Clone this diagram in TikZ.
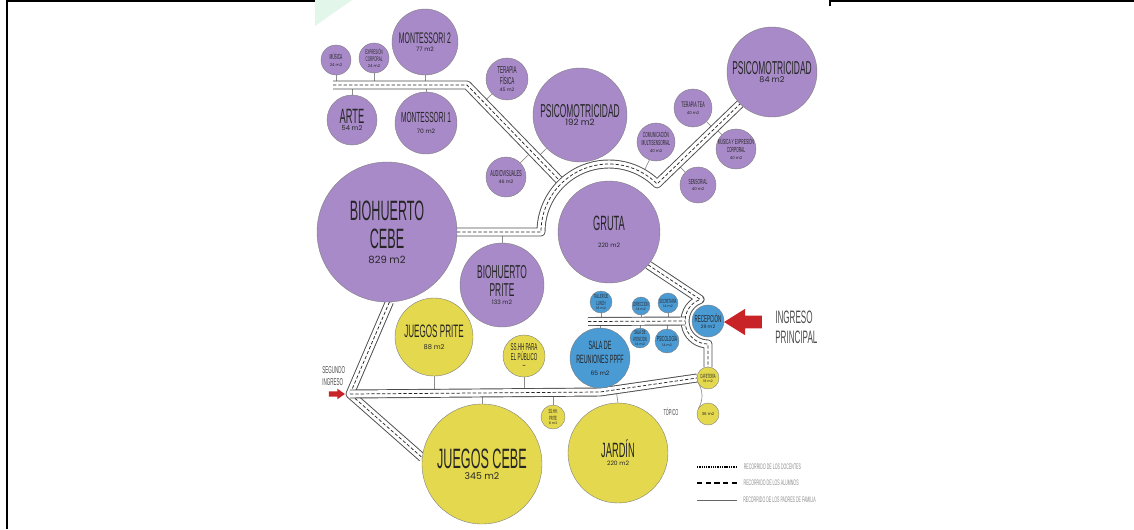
\documentclass[tikz,border=0pt]{standalone}
\usepackage{fontspec}
\usetikzlibrary{positioning,calc,shapes.arrows,backgrounds}
\newfontfamily\roomfont{Liberation Sans}[FakeStretch=0.45]
\newfontfamily\areafont{Poppins}
\newcommand{\fsz}[2]{\fontsize{#1}{#2}\selectfont}
\newcommand{\area}[2]{{\fontsize{#1}{#1}\areafont #2}}
\definecolor{roomPurple}{RGB}{168,138,200}
\definecolor{roomBlue}{RGB}{74,154,212}
\definecolor{roomYellow}{RGB}{228,216,78}
\definecolor{arrowRed}{RGB}{200,36,40}
\definecolor{mint}{RGB}{226,246,234}
\tikzset{
  room/.style={circle, draw=black!50, line width=0.3pt, inner sep=0pt, outer sep=0pt},
  sz/.style={minimum size=#1*1.5pt},
  lila/.style={room, fill=roomPurple},
  azul/.style={room, fill=roomBlue},
  amarillo/.style={room, fill=roomYellow},
  every label/.style={align=center, text=black!85, inner sep=0pt},
  corridor/.style={draw=black!70, line width=6.7pt, line join=round,
    postaction={draw=white, line width=5.3pt},
    postaction={draw=black!85, line width=0.55pt, dash pattern=on 2.5pt off 1.5pt}},
  stub/.style={draw=black!45, line width=0.5pt},
  note/.style={font=\roomfont, text=black!70, inner sep=0pt, align=left},
  leyenda/.style={font={\roomfont\fsz{6}{6}}, text=black!45, inner sep=0pt, xshift=4.5pt},
  ingreso/.style={single arrow, fill=arrowRed, draw=none}
}
\begin{document}
\begin{tikzpicture}[x=0.75pt,y=0.75pt,yscale=-1]
\useasboundingbox (0,0) rectangle (1134,529);

% frame
\draw[line width=1.5pt] (7,529) -- (7,1) -- (315,1);
\draw[line width=1.2pt] (830,6) -- (830,1) -- (1134,1);

% purple rooms
\node[lila, sz=15, label={[font={\roomfont\fsz{5.5}{6}}]center:{MÚSICA\\[-1pt]\area{3}{24 m2}}}] (musica) at (336,60) {};
\node[lila, sz=15, label={[font={\roomfont\fsz{5}{5.5}}]center:{EXPRESIÓN\\CORPORAL\\[-1pt]\area{3}{24 m2}}}] (expresion) at (374,58) {};
\node[lila, sz=33, label={[font={\roomfont\fsz{11.5}{12}}]center:{MONTESSORI 2\\[-6pt]\area{4.5}{77 m2}}}] (mont2) at (425,42) {};
\node[lila, sz=25, label={[font={\roomfont\fsz{15.5}{16}}]center:{ARTE\\[-11pt]\area{5}{54 m2}}}] (arte) at (352,120) {};
\node[lila, sz=31, label={[font={\roomfont\fsz{11}{12}}]center:{MONTESSORI 1\\[-4pt]\area{4.5}{70 m2}}}] (mont1) at (426,123) {};
\node[lila, sz=21, label={[font={\roomfont\fsz{7.5}{8}}]center:{TERAPIA\\FÍSICA\\[-3pt]\area{3.5}{45 m2}}}] (tfisica) at (507,79) {};
\node[lila, sz=47, label={[font={\roomfont\fsz{14}{14}}]center:{PSICOMOTRICIDAD\\[-8pt]\area{6.5}{192 m2}}}] (psico1) at (580,115) {};
\node[lila, sz=20, label={[font={\roomfont\fsz{6.5}{7}}]center:{AUDIOVISUALES\\[-2pt]\area{3.5}{46 m2}}}] (audio) at (506,177) {};
\node[lila, sz=70, label={[font={\roomfont\fsz{21}{21}}]center:{BIOHUERTO\\CEBE\\[-9.5pt]\area{7.5}{829 m2}}}] (biocebe) at (387,232) {};
\node[lila, sz=42, label={[font={\roomfont\fsz{14}{13.5}}]center:{BIOHUERTO\\PRITE\\[-7.5pt]\area{4.5}{133 m2}}}] (bioprite) at (502,285) {};
\node[lila, sz=51, label={[font={\roomfont\fsz{15.5}{16}}]center:{GRUTA\\[-3pt]\area{4.5}{220 m2}}}] (gruta) at (609,232) {};
\node[lila, sz=45, label={[font={\roomfont\fsz{14}{14}}]center:{PSICOMOTRICIDAD\\[-8.5pt]\area{6}{84 m2}}}] (psico2) at (772,72) {};
\node[lila, sz=19, label={[font={\roomfont\fsz{6}{6.5}}]center:{TERAPIA TEA\\[-1pt]\area{3}{40 m2}}}] (tea) at (693,108) {};
\node[lila, sz=19, label={[font={\roomfont\fsz{5.5}{6}}]center:{COMUNICACIÓN\\MULTISENSORIAL\\[-1pt]\area{3}{40 m2}}}] (comunic) at (656,142) {};
\node[lila, sz=20, label={[font={\roomfont\fsz{5.5}{6}}]center:{MÚSICA Y EXPRESIÓN\\CORPORAL\\[-1pt]\area{3}{40 m2}}}] (musexp) at (736,149) {};
\node[lila, sz=18, label={[font={\roomfont\fsz{5.5}{6}}]center:{SENSORIAL\\[-1pt]\area{3}{40 m2}}}] (sensorial) at (698,185) {};

% blue rooms
\node[azul, sz=11, label={[font={\roomfont\fsz{4.5}{5}}]center:{TALLER DE\\LUNCH\\[-1.5pt]\area{2.5}{18 m2}}}] (taller) at (601,302) {};
\node[azul, sz=9, label={[font={\roomfont\fsz{4.5}{5}}]center:{DIRECCIÓN\\[-1.5pt]\area{2.5}{14 m2}}}] (direccion) at (641,306) {};
\node[azul, sz=10, label={[font={\roomfont\fsz{4.5}{5}}]center:{SECRETARÍA\\[-1.5pt]\area{2.5}{14 m2}}}] (secret) at (668,303) {};
\node[azul, sz=16, label={[font={\roomfont\fsz{7.5}{8}}]center:{RECEPCIÓN\\[-3pt]\area{3.5}{29 m2}}}] (recepcion) at (708,321) {};
\node[azul, sz=10, label={[font={\roomfont\fsz{4.5}{5}}]center:{SALA DE\\ATENCIÓN\\[-1.5pt]\area{2.5}{14 m2}}}] (atencion) at (640,338) {};
\node[azul, sz=12, label={[font={\roomfont\fsz{5.5}{6}}]center:{PSICOLOGÍA\\[-2pt]\area{2.5}{14 m2}}}] (psicol) at (667,341) {};
\node[azul, sz=30, label={[font={\roomfont\fsz{9}{10.5}}]center:{SALA DE\\REUNIONES PPFF\\[-1.5pt]\area{4.5}{65 m2}}}] (sala) at (600,358) {};

% yellow rooms
\node[amarillo, sz=39, label={[font={\roomfont\fsz{13.5}{14}}]center:{JUEGOS PRITE\\[-5pt]\area{5}{88 m2}}}] (jprite) at (434,337) {};
\node[amarillo, sz=21, label={[font={\roomfont\fsz{7.5}{7.5}}]center:{SS.HH PARA\\EL PÚBLICO\\[-1pt]--}}] (sshh) at (524,356) {};
\node[amarillo, sz=11, label={[font={\roomfont\fsz{4.5}{5}}]center:{CAFETERÍA\\[-1.5pt]\area{2.5}{18 m2}}}] (cafe) at (708,378) {};
\node[amarillo, sz=11, label={center:{\area{3}{36 m2}}}] (topico) at (708,414) {};
\node[amarillo, sz=12, label={[font={\roomfont\fsz{4.5}{5}}]center:{SS.HH.\\PRITE\\[-1.5pt]\area{2.5}{8 m2}}}] (sshhprite) at (553,417) {};
\node[amarillo, sz=60, label={[font={\roomfont\fsz{21}{22}}]center:{JUEGOS CEBE\\[-14pt]\area{7}{345 m2}}}] (jcebe) at (482,464) {};
\node[amarillo, sz=50, label={[font={\roomfont\fsz{15.5}{16}}]center:{JARDÍN\\[-10pt]\area{4.5}{220 m2}}}] (jardin) at (618,453) {};

% corridor points
\coordinate (arribaW) at (333,85);
\coordinate (arribaE) at (467,85);
\coordinate (gjoin) at ($(gruta.center)+(-133.8:68)$);
\coordinate (arcoNE) at ($(gruta.center)+(-45:68)$);
\coordinate (arco60) at ($(gruta.center)+(-60:68)$);
\coordinate (azulW) at (588,321.5);
\coordinate (azulE) at ($(recepcion)+(180:23)$);
\coordinate (ingreso2) at (350,394);
\coordinate (quiebre) at (600,392);

\begin{scope}[on background layer]
\fill[mint] (315,0) -- (352,0) -- (315,26) -- cycle;
% stubs
\draw[stub] (musica.south) -- (musica.south |- arribaW);
\draw[stub] (expresion.south) -- (expresion.south |- arribaW);
\draw[stub] (mont2.south) -- (mont2.south |- arribaW);
\draw[stub] (arte.north) -- (arte.north |- arribaW);
\draw[stub] (mont1.north) -- (mont1.north |- arribaW);
\draw[stub] (tfisica.225) -- ($(arribaE)!(tfisica.225)!(gjoin)$);
\draw[stub] (psico1.225) -- ($(arribaE)!(psico1.225)!(gjoin)$);
\draw[stub] (audio.45) -- ($(arribaE)!(audio.45)!(gjoin)$);
\draw[stub] (bioprite.north) -- (bioprite.north |- biocebe.east);
\draw[stub] (tea.-45) -- ($(arcoNE)!(tea.-45)!(psico2.225)$);
\draw[stub] (musexp.135) -- ($(arcoNE)!(musexp.135)!(psico2.225)$);
\draw[stub] (sensorial.135) -- ($(arcoNE)!(sensorial.135)!(psico2.225)$);
\draw[stub] (comunic.-110) -- (arco60);
\draw[stub] (taller.south) -- (taller.south |- azulW);
\draw[stub] (direccion.south) -- (direccion.south |- azulW);
\draw[stub] (secret.south) -- (secret.south |- azulW);
\draw[stub] (atencion.north) -- (atencion.north |- azulW);
\draw[stub] (psicol.north) -- (psicol.north |- azulW);
\draw[stub] (sala.north) -- (sala.north |- azulW);
\draw[stub] (jprite.south) -- (jprite.south |- ingreso2);
\draw[stub] (sshh.south) -- (sshh.south |- ingreso2);
\draw[stub] (jcebe.north) -- (jcebe.north |- ingreso2);
\draw[stub] (sshhprite.north) -- (sshhprite.north |- ingreso2);
\draw[stub] (jardin.north) -- ($(quiebre)!(jardin.north)!(cafe.west)$);
\draw[stub] (cafe.200) to[bend right=30] (topico.150);
% corridors
\draw[corridor] (arribaW) -- (arribaE) -- (gjoin);
\draw[corridor] (biocebe.east) -- ($(gruta.center)+(-180:68)$) arc[start angle=-180, end angle=-45, radius=68] -- (psico2.225);
\draw[corridor] (gruta.-40) -- ($(recepcion)+(-110:23)$) arc[start angle=-110, end angle=-270, radius=23] -- (cafe.north);
\draw[corridor] (azulW) -- (azulE);
\draw[corridor] (biocebe.-88) -- (ingreso2) -- (jcebe.174);
\draw[corridor] (ingreso2) -- (quiebre) -- (cafe.west);
\end{scope}

% entrances
\node[ingreso, minimum height=28.5pt, inner sep=4.5pt, single arrow head extend=5.25pt,
  single arrow tip angle=64, shape border rotate=180] (flechaP) at (748,322) {};
\node[note, anchor=west, font={\roomfont\fsz{13.5}{15}}] (ingreso1lbl) at (775,327) {INGRESO\\PRINCIPAL};
\node[ingreso, minimum height=12pt, inner sep=1.8pt, single arrow head extend=2pt,
  single arrow tip angle=70] (flechaS) at (335,394) {};
\node[note, anchor=west, font={\roomfont\fsz{7.5}{8.5}}] (ingreso2lbl) at (322,376) {SEGUNDO\\INGRESO};
\node[note, font={\roomfont\fsz{6.5}{6.5}}] (topicolbl) at (671,412) {TÓPICO};

% legend
\coordinate (ley1) at (697,467);
\coordinate (ley2) at (697,483);
\coordinate (ley3) at (697,500);
\draw[line width=1.2pt, dash pattern=on 1pt off 0.7pt] (ley1) -- ++(40,0) node[leyenda, right] (ley1t) {RECORRIDO DE LOS DOCENTES};
\draw[line width=1pt, dash pattern=on 4pt off 2.5pt] (ley2) -- ++(40,0) node[leyenda, right] (ley2t) {RECORRIDO DE LOS ALUMNOS};
\draw[line width=0.5pt, black!60] (ley3) -- ++(40,0) node[leyenda, right] (ley3t) {RECORRIDO DE LOS PADRES DE FAMILIA};
\end{tikzpicture}
\end{document}
